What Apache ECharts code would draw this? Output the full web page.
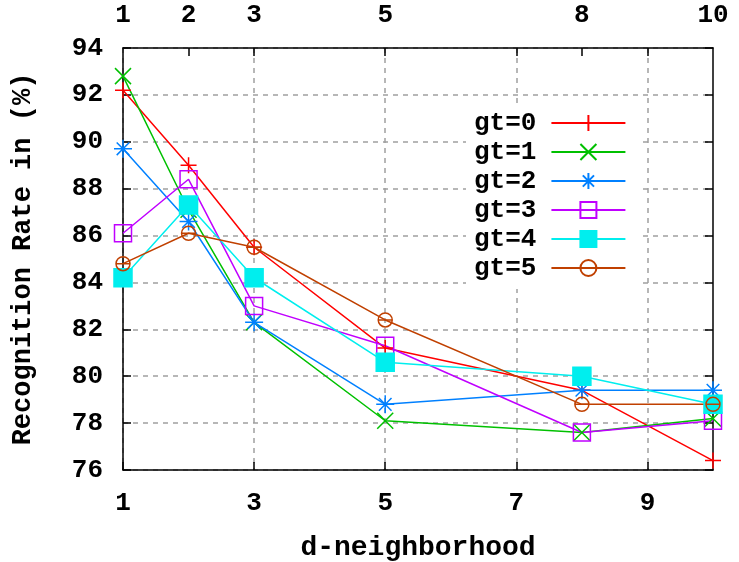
<!DOCTYPE html>
<html>
<head>
<meta charset="utf-8">
<script src="https://cdn.jsdelivr.net/npm/echarts@6/dist/echarts.min.js"></script>
<style>
  html, body { margin: 0; padding: 0; background: #fff; }
  #chart { width: 739px; height: 562px; }
</style>
</head>
<body>
<div id="chart"></div>
<script>
// d-neighborhood values where each curve was measured
var xValues = [1, 2, 3, 5, 8, 10];

// recognition rate (%) per gt
var gt0 = [92.2, 89.0, 85.5, 81.2, 79.4, 76.4];
var gt1 = [92.8, 87.1, 82.3, 78.1, 77.6, 78.2];
var gt2 = [89.7, 86.6, 82.3, 78.8, 79.4, 79.4];
var gt3 = [86.1, 88.4, 83.0, 81.3, 77.6, 78.1];
var gt4 = [84.2, 87.3, 84.2, 80.6, 80.0, 78.8];
var gt5 = [84.8, 86.1, 85.5, 82.4, 78.8, 78.8];

// tick labels
var bottomTicks = [1, 3, 5, 7, 9];
var topLabels = [1, 2, 3, 5, 8, 10];
var topTicks = [2, 3, 5, 7, 8, 9];

var font = '"Liberation Mono", "DejaVu Sans Mono", monospace';

function pairs(vals) {
  return xValues.map(function (x, i) { return [x, vals[i]]; });
}

function mkSeries(name, vals, color, symbol, size, fill) {
  return {
    name: name,
    type: 'line',
    xAxisIndex: 0,
    data: pairs(vals),
    symbol: symbol,
    symbolSize: size,
    showAllSymbol: true,
    lineStyle: { color: color, width: 1.5 },
    itemStyle: { color: fill, borderColor: color, borderWidth: 1.5 },
    emphasis: { disabled: true },
    z: 3
  };
}

var chart = echarts.init(document.getElementById('chart'));

var option = {
  animation: false,
  backgroundColor: '#fff',
  grid: { left: 123, right: 26, top: 48, bottom: 92, outerBoundsMode: 'none' },
  legend: {
    orient: 'vertical',
    left: 466,
    top: 106,
    align: 'right',
    itemWidth: 74,
    itemHeight: 20,
    itemGap: 3,
    backgroundColor: '#fff',
    padding: [4, 16, 8, 8],
    textStyle: { fontFamily: font, fontWeight: 'bold', fontSize: 26, color: '#000', padding: [0, 10, 0, 0] },
    data: ['gt=0', 'gt=1', 'gt=2', 'gt=3', 'gt=4', 'gt=5']
  },
  xAxis: [
    {
      type: 'value',
      position: 'bottom',
      min: 1,
      max: 10,
      name: 'd-neighborhood',
      nameLocation: 'middle',
      nameGap: 64,
      nameTextStyle: { fontFamily: font, fontWeight: 'bold', fontSize: 28, color: '#000' },
      axisLine: { show: true, onZero: false, lineStyle: { color: '#000', width: 1.5 } },
      axisTick: { show: true, inside: true, length: 8, customValues: bottomTicks, lineStyle: { color: '#000', width: 1.5 } },
      axisLabel: { customValues: bottomTicks, margin: 20, fontFamily: font, fontWeight: 'bold', fontSize: 26, color: '#000' },
      splitLine: { show: true, lineStyle: { color: '#a0a0a0', width: 1.5, type: [5, 5] } }
    },
    {
      type: 'value',
      position: 'top',
      min: 1,
      max: 10,
      axisLine: { show: true, onZero: false, lineStyle: { color: '#000', width: 1.5 } },
      axisTick: { show: true, inside: true, length: 8, customValues: topTicks, lineStyle: { color: '#000', width: 1.5 } },
      axisLabel: { customValues: topLabels, margin: 20, fontFamily: font, fontWeight: 'bold', fontSize: 26, color: '#000' },
      splitLine: { show: false }
    }
  ],
  yAxis: [
    {
      type: 'value',
      position: 'left',
      min: 76,
      max: 94,
      interval: 2,
      name: 'Recognition Rate in (%)',
      nameLocation: 'middle',
      nameGap: 86,
      nameRotate: 90,
      nameTextStyle: { fontFamily: font, fontWeight: 'bold', fontSize: 27, color: '#000' },
      axisLine: { show: true, onZero: false, lineStyle: { color: '#000', width: 1.5 } },
      axisTick: { show: true, inside: true, length: 8, lineStyle: { color: '#000', width: 1.5 } },
      axisLabel: { margin: 20, fontFamily: font, fontWeight: 'bold', fontSize: 26, color: '#000' },
      splitLine: { show: true, lineStyle: { color: '#a0a0a0', width: 1.5, type: [5, 5] } }
    },
    {
      type: 'value',
      position: 'right',
      min: 76,
      max: 94,
      interval: 2,
      axisLine: { show: true, onZero: false, lineStyle: { color: '#000', width: 1.5 } },
      axisTick: { show: true, inside: true, length: 8, lineStyle: { color: '#000', width: 1.5 } },
      axisLabel: { show: false },
      splitLine: { show: false }
    }
  ],
  series: [
    mkSeries('gt=0', gt0, '#ff0000', 'path://M0,5L10,5M5,0L5,10', 16, '#ff0000'),
    mkSeries('gt=1', gt1, '#00c000', 'path://M0,0L10,10M10,0L0,10', 16, '#00c000'),
    mkSeries('gt=2', gt2, '#0080ff', 'path://M0,5L10,5M5,0L5,10M1.5,1.5L8.5,8.5M8.5,1.5L1.5,8.5', 18, '#0080ff'),
    mkSeries('gt=3', gt3, '#c000ff', 'path://M0,0L10,0L10,10L0,10Z', 17, 'rgba(0,0,0,0)'),
    mkSeries('gt=4', gt4, '#00eeee', 'rect', 18, '#00eeee'),
    mkSeries('gt=5', gt5, '#c04000', 'path://M0,5A5,5 0 1,1 10,5A5,5 0 1,1 0,5ZM0,5L10,5', 14, 'rgba(0,0,0,0)')
  ]
};

chart.setOption(option);
</script>
</body>
</html>
